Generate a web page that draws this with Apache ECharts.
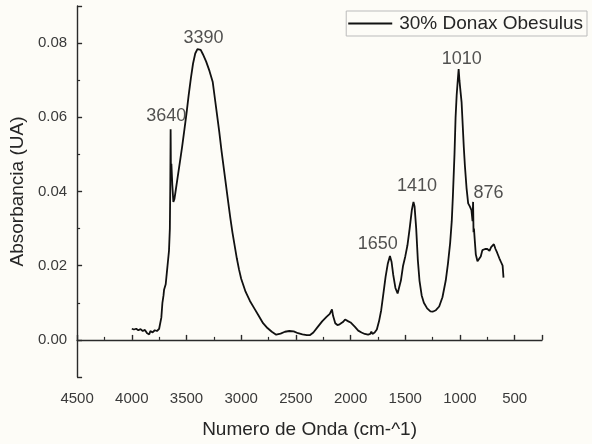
<!DOCTYPE html>
<html>
<head>
<meta charset="utf-8">
<script src="https://cdn.jsdelivr.net/npm/echarts@6/dist/echarts.min.js"></script>
<style>
  html, body { margin: 0; padding: 0; background: #fdfcf7; }
  #chart { width: 592px; height: 444px; }
</style>
</head>
<body>
<div id="chart"></div>
<script>
// FTIR spectrum: wavenumber (cm^-1) and absorbance (UA)
const seriesName = '30% Donax Obesulus';

const wavenumbers = [
  4000, 3980, 3960, 3940, 3920, 3900, 3880, 3860, 3850, 3840, 3830, 3810, 3790, 3770, 3750,
  3740, 3730, 3720, 3710, 3705, 3700, 3690, 3680, 3670, 3660, 3652, 3648, 3645, 3642, 3638,
  3630, 3620, 3610, 3600, 3580, 3560, 3540, 3520, 3500, 3480, 3460, 3440, 3420, 3400, 3390,
  3370, 3350, 3320, 3290, 3260, 3240, 3220, 3200, 3180, 3160, 3140, 3120, 3100, 3080, 3060,
  3040, 3020, 3000, 2960, 2920, 2880, 2840, 2800, 2760, 2720, 2680, 2640, 2600, 2560, 2520,
  2480, 2440, 2400, 2370, 2340, 2300, 2260, 2220, 2190, 2170, 2160, 2140, 2120, 2100, 2070,
  2050, 2035, 2020, 2000, 1990, 1960, 1930, 1900, 1870, 1840, 1820, 1810, 1800, 1780, 1760,
  1740, 1720, 1700, 1680, 1660, 1640, 1625, 1610, 1590, 1570, 1555, 1540, 1520, 1500, 1480,
  1460, 1440, 1425, 1415, 1400, 1385, 1370, 1350, 1330, 1300, 1270, 1250, 1220, 1190, 1160,
  1130, 1110, 1090, 1075, 1065, 1050, 1040, 1030, 1020, 1012, 1005, 995, 985, 975, 965,
  955, 940, 925, 910, 895, 885, 880, 876, 872, 865, 855, 840, 825, 810, 795,
  770, 750, 730, 715, 700, 690, 675, 660, 640, 625, 610, 602
];

const absorbance = [
  0.0030, 0.0028, 0.0030, 0.0026, 0.0029, 0.0024, 0.0027, 0.0018, 0.0022, 0.0015, 0.0024, 0.0020, 0.0026, 0.0024, 0.0030,
  0.0035, 0.0060, 0.0100, 0.0120, 0.0135, 0.0130, 0.0150, 0.0180, 0.0210, 0.0240, 0.0300, 0.0420, 0.0568, 0.0440, 0.0475,
  0.0420, 0.0372, 0.0380, 0.0400, 0.0440, 0.0480, 0.0520, 0.0565, 0.0610, 0.0660, 0.0705, 0.0745, 0.0772, 0.0784, 0.0786,
  0.0782, 0.0770, 0.0750, 0.0725, 0.0695, 0.0650, 0.0605, 0.0560, 0.0510, 0.0465, 0.0420, 0.0375, 0.0330, 0.0290, 0.0255,
  0.0220, 0.0190, 0.0165, 0.0130, 0.0105, 0.0085, 0.0065, 0.0045, 0.0032, 0.0022, 0.0014, 0.0017, 0.0022, 0.0024, 0.0023,
  0.0018, 0.0015, 0.0013, 0.0013, 0.0020, 0.0035, 0.0050, 0.0062, 0.0070, 0.0082, 0.0065, 0.0045, 0.0040, 0.0042, 0.0048,
  0.0055, 0.0060, 0.0050, 0.0047, 0.0044, 0.0035, 0.0025, 0.0020, 0.0016, 0.0014, 0.0016, 0.0022, 0.0016, 0.0020, 0.0028,
  0.0050, 0.0080, 0.0125, 0.0170, 0.0205, 0.0226, 0.0210, 0.0175, 0.0140, 0.0125, 0.0130, 0.0160, 0.0200, 0.0225, 0.0255,
  0.0300, 0.0350, 0.0372, 0.0360, 0.0300, 0.0215, 0.0160, 0.0120, 0.0100, 0.0085, 0.0077, 0.0076, 0.0080, 0.0090, 0.0115,
  0.0160, 0.0205, 0.0260, 0.0320, 0.0385, 0.0500, 0.0600, 0.0660, 0.0700, 0.0730, 0.0700, 0.0670, 0.0640, 0.0580, 0.0520,
  0.0470, 0.0410, 0.0368, 0.0360, 0.0350, 0.0320, 0.0372, 0.0290, 0.0300, 0.0270, 0.0230, 0.0212, 0.0208, 0.0225, 0.0242,
  0.0245, 0.0245, 0.0240, 0.0250, 0.0255, 0.0258, 0.0245, 0.0235, 0.0220, 0.0210, 0.0200, 0.0168
];

// Annotated band positions and the absorbance at each band top
const peakWavenumbers = [3640, 3390, 1650, 1410, 1010, 876];
const peakAbsorbance = [0.0568, 0.0786, 0.0226, 0.0372, 0.0730, 0.0372];

// Pixel nudges for the band annotations (layout only)
const peakLabelOffsets = [[-5, -13], [5, -10], [-11, -12], [2, -16], [3, -10], [15, -9]];

const axisColor = '#2a2a2a';
const textColor = '#262626';
const fontFamily = '"Liberation Sans", Arial, Helvetica, sans-serif';

const chart = echarts.init(document.getElementById('chart'), null, { renderer: 'canvas' });

chart.setOption({
  backgroundColor: '#fdfcf7',
  animation: false,
  grid: { left: 76, right: 50, top: 6, bottom: 62, containLabel: false },
  legend: {
    data: [seriesName],
    right: 5,
    top: 11,
    orient: 'horizontal',
    borderColor: '#bbb',
    borderWidth: 1,
    borderRadius: 0,
    padding: [3, 4, 3, 2],
    itemWidth: 44,
    itemHeight: 2,
    itemGap: 6,
    icon: 'rect',
    textStyle: { color: textColor, fontSize: 19, fontFamily: fontFamily, padding: [0, 0, 0, 2] }
  },
  xAxis: {
    type: 'value',
    inverse: true,
    min: 250,
    max: 4500,
    splitNumber: 8,
    name: 'Numero de Onda (cm-^1)',
    nameLocation: 'middle',
    nameGap: 43,
    nameTextStyle: { color: textColor, fontSize: 19, fontFamily: fontFamily },
    axisLine: { show: true, lineStyle: { color: axisColor, width: 1.4 } },
    axisTick: { show: true, inside: true, length: 5, lineStyle: { color: axisColor, width: 1.4 } },
    minorTick: { show: true, splitNumber: 2, length: 3, lineStyle: { color: axisColor, width: 1.2 } },
    axisLabel: {
      color: '#3a3a3a', fontSize: 15, fontFamily: fontFamily, margin: 14,
      showMinLabel: false, showMaxLabel: true,
      formatter: function (v) { return (v % 500 === 0) ? String(v) : ''; }
    },
    splitLine: { show: false },
    minorSplitLine: { show: false }
  },
  yAxis: {
    type: 'value',
    min: -0.01,
    max: 0.09,
    splitNumber: 5,
    name: 'Absorbancia (UA)',
    nameLocation: 'middle',
    nameGap: 39,
    nameTextStyle: { color: textColor, fontSize: 19, fontFamily: fontFamily },
    axisLine: { show: true, onZero: false, lineStyle: { color: axisColor, width: 1.4 } },
    axisTick: { show: true, inside: true, length: 5, lineStyle: { color: axisColor, width: 1.4 } },
    minorTick: { show: true, splitNumber: 2, length: 3, lineStyle: { color: axisColor, width: 1.2 } },
    axisLabel: {
      color: '#3a3a3a', fontSize: 15, fontFamily: fontFamily, margin: 10,
      showMinLabel: false, showMaxLabel: false,
      formatter: function (v) { return v.toFixed(2); }
    },
    splitLine: { show: false },
    minorSplitLine: { show: false }
  },
  series: [
    {
      name: seriesName,
      type: 'line',
      data: wavenumbers.map(function (w, i) { return [w, absorbance[i]]; }),
      showSymbol: false,
      symbol: 'none',
      lineStyle: { color: '#111', width: 1.8 },
      itemStyle: { color: '#111' },
      z: 3
    },
    {
      name: 'bands',
      type: 'scatter',
      symbolSize: 0,
      silent: true,
      data: peakWavenumbers.map(function (w, i) {
        return {
          value: [w, peakAbsorbance[i]],
          label: { offset: peakLabelOffsets[i] }
        };
      }),
      label: {
        show: true,
        position: 'inside',
        align: 'center',
        verticalAlign: 'middle',
        color: textColor,
        fontSize: 18,
        fontFamily: fontFamily,
        formatter: function (p) { return String(p.value[0]); }
      },
      z: 4
    }
  ]
});
</script>
</body>
</html>
